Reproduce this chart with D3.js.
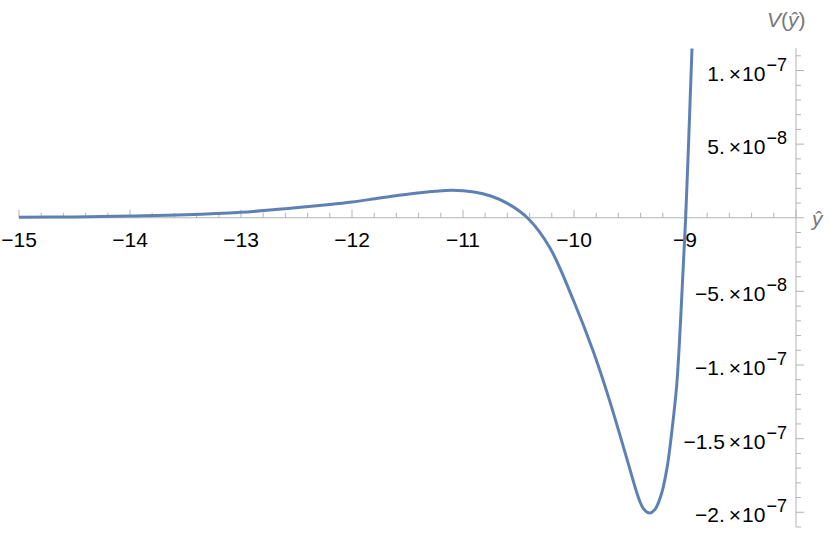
<!DOCTYPE html>
<meta charset="utf-8">
<script src="https://d3js.org/d3.v7.min.js"></script>
<style>
  body { margin: 0; background: #fff; }
  text { font-family: "Liberation Sans", Arial, sans-serif; }
</style>
<div id="chart"></div>
<script>

// curve (y-hat, V in units of 1e-9)
var yhat = [-15, -14.5, -14, -13.5, -13, -12.6, -12.2, -12, -11.75, -11.5, -11.25, -11.1,
  -10.9, -10.75, -10.6, -10.42, -10.22, -10, -9.83, -9.68, -9.53, -9.41, -9.37, -9.32,
  -9.27, -9.21, -9.16, -9.12, -9.075, -9.04, -8.994, -8.937];
var vals = [0.3, 0.6, 1.2, 2.0, 3.7, 6.2, 9.0, 10.7, 13.4, 16.0, 18.0, 18.7,
  17.5, 14.8, 9.8, 0, -20, -57, -90, -124, -162, -192, -198, -200.5,
  -198, -187, -169, -146, -114, -70, 0, 115];

var xTicks = [-15, -14, -13, -12, -11, -10, -9];
var yTicks = [1e-7, 5e-8, -5e-8, -1e-7, -1.5e-7, -2e-7];
var yMant = ["1.", "5.", "−5.", "−1.", "−1.5", "−2."];
var yExp = ["−7", "−8", "−8", "−7", "−7", "−7"];

var width = 830, height = 535;

var svg = d3.select("#chart")
  .append("svg")
    .attr("width", width)
    .attr("height", height);

var x = d3.scaleLinear().domain([-15, -8]).range([19, 796]);
var y = d3.scaleLinear().domain([-2.1e-7, 1.153e-7]).range([527, 48]);

var axisColor = "#b3b3b3";

// x axis: minor ticks every 0.2, majors at integers, pointing up
var minorX = d3.range(-15, -8 + 1e-9, 0.2).map(function(d) { return Math.round(d * 10) / 10; });
var gx = svg.append("g").attr("transform", "translate(0," + y(0) + ")");
gx.append("line")
  .attr("x1", x(-15)).attr("x2", x(-8))
  .attr("stroke", axisColor).attr("stroke-width", 1);
gx.selectAll(".tx")
  .data(minorX)
  .enter().append("line")
    .attr("x1", function(d) { return x(d); })
    .attr("x2", function(d) { return x(d); })
    .attr("y1", 0)
    .attr("y2", function(d) { return Math.abs(d - Math.round(d)) < 1e-6 ? -8 : -5; })
    .attr("stroke", axisColor);
gx.selectAll(".lx")
  .data(xTicks)
  .enter().append("text")
    .attr("x", function(d) { return x(d); })
    .attr("y", 29)
    .attr("text-anchor", "middle")
    .attr("font-size", 21)
    .attr("fill", "#000")
    .text(function(d) { return "−" + Math.abs(d); });

// y axis at y-hat = -8, ticks pointing right
var minorY = d3.range(-21, 12).map(function(d) { return d * 1e-8; });
var gy = svg.append("g").attr("transform", "translate(" + x(-8) + ",0)");
gy.append("line")
  .attr("y1", y(-2.1e-7)).attr("y2", y(1.153e-7))
  .attr("stroke", axisColor);
gy.selectAll(".ty")
  .data(minorY)
  .enter().append("line")
    .attr("y1", function(d) { return y(d); })
    .attr("y2", function(d) { return y(d); })
    .attr("x1", 0)
    .attr("x2", function(d, i) { return (i - 21) % 5 === 0 ? 8 : 5; })
    .attr("stroke", axisColor);

var ly = gy.selectAll(".ly")
  .data(yTicks)
  .enter().append("text")
    .attr("x", -9)
    .attr("y", function(d) { return y(d) + 10; })
    .attr("text-anchor", "end")
    .attr("font-size", 21)
    .attr("fill", "#000");
ly.append("tspan").text(function(d, i) { return yMant[i]; });
ly.append("tspan").attr("dx", 4).text("×");
ly.append("tspan").attr("dx", 1).text("10");
ly.append("tspan")
  .attr("dy", -10)
  .attr("dx", 1)
  .attr("font-size", 18)
  .text(function(d, i) { return yExp[i]; });

// axis labels
svg.append("text")
  .attr("x", 812).attr("y", 226)
  .attr("font-size", 21).attr("fill", "#777")
  .attr("font-style", "italic")
  .text("ŷ");

var vl = svg.append("text")
  .attr("x", 767).attr("y", 27)
  .attr("font-size", 21).attr("fill", "#777");
vl.append("tspan").attr("font-style", "italic").text("V");
vl.append("tspan").text("(");
vl.append("tspan").attr("font-style", "italic").text("ŷ");
vl.append("tspan").text(")");

// curve
svg.append("clipPath").attr("id", "clip")
  .append("rect").attr("x", 19).attr("y", 48).attr("width", 777).attr("height", 479);

var line = d3.line()
  .x(function(d, i) { return x(yhat[i]); })
  .y(function(d) { return y(d * 1e-9); })
  .curve(d3.curveCatmullRom.alpha(0.5));

svg.append("path")
  .datum(vals)
  .attr("clip-path", "url(#clip)")
  .attr("fill", "none")
  .attr("stroke", "#5e81b5")
  .attr("stroke-width", 3)
  .attr("d", line);

</script>
